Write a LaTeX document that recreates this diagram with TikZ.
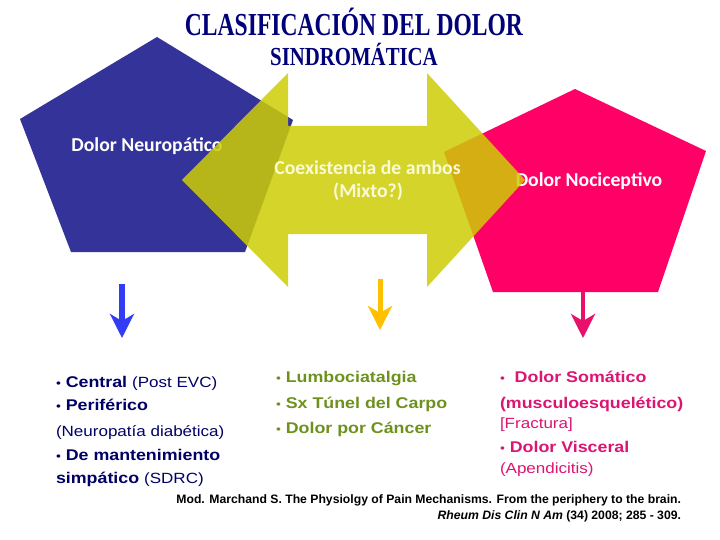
\documentclass[tikz,border=0pt]{standalone}
\usepackage{fontspec}
\usepackage{graphicx}
\usetikzlibrary{arrows.meta}
\newfontfamily\calfont{Carlito}
\newfontfamily\arialx[FakeStretch=1.15]{Liberation Sans}
\newfontfamily\titlefont{Liberation Serif}
\newfontfamily\citefont{Liberation Sans}
\definecolor{titleblue}{RGB}{0,0,120}
\definecolor{pentblue}{RGB}{51,51,153}
\definecolor{pentpink}{RGB}{255,0,102}
\definecolor{arrowyel}{RGB}{205,205,5}
\definecolor{lstnavy}{RGB}{0,0,102}
\definecolor{lstgreen}{RGB}{110,145,30}
\definecolor{lstpink}{RGB}{220,20,115}
\definecolor{dnblue}{RGB}{51,60,245}
\definecolor{dnyel}{RGB}{255,192,0}
\definecolor{dnpink}{RGB}{232,16,106}
\definecolor{coexcol}{RGB}{250,250,215}
\tikzset{
  every node/.style={inner sep=0pt, outer sep=0pt},
  pentlabel/.style={anchor=base, text=white, font=\calfont\bfseries\fontsize{19.7}{22}\selectfont},
  coexlabel/.style={anchor=base, text=coexcol, font=\calfont\bfseries\fontsize{19.7}{22}\selectfont},
  lstline/.style={anchor=base west, font=\arialx\fontsize{15.5}{18}\selectfont},
  citeline/.style={anchor=base east, font=\citefont\bfseries\fontsize{12.2}{14}\selectfont},
  downarrow/.style={-{Stealth[length=24pt,width=24pt,inset=7pt]}}
}
\newcommand{\regtxt}[1]{{\mdseries\fontsize{14.8}{18}\selectfont #1}}
\newcommand{\bul}{{\mdseries\fontsize{12}{18}\selectfont •}}
\begin{document}
\begin{tikzpicture}[x=1pt,y=-1pt]
\useasboundingbox (0,0) rectangle (720,540);
\fill[white] (0,0) rectangle (720,540);

% title
\node[anchor=base, text=titleblue] (title1) at (354,36)
  {\scalebox{0.737}[1]{\titlefont\bfseries\fontsize{32}{36}\selectfont CLASIFICACIÓN DEL DOLOR}};
\node[anchor=base, text=titleblue] (title2) at (354,66)
  {\scalebox{0.80}[1]{\titlefont\bfseries\fontsize{26}{30}\selectfont SINDROMÁTICA}};

% pentagons
\fill[pentblue] (157,37) -- (293,120) -- (245,252) -- (71,252) -- (20,119) -- cycle;
\fill[pentpink] (575,89) -- (706,151) -- (658,292) -- (493,292) -- (444,152) -- cycle;

\node[pentlabel] (neuro) at (147,151.5) {Dolor Neuropático};
\node[pentlabel] (noci) at (589,187) {Dolor Nociceptivo};

% double arrow
\fill[arrowyel, fill opacity=0.85]
  (182,180) -- (288,73) -- (288,126) -- (427,126) -- (427,73) -- (525,180)
  -- (427,287) -- (427,234) -- (288,234) -- (288,287) -- cycle;

\node[coexlabel] (coex1) at (367.5,175) {Coexistencia de ambos};
\node[coexlabel] (coex2) at (368,197) {(Mixto?)};

% down arrows
\coordinate (ba1) at (122,284);
\coordinate (ba2) at (122,338);
\coordinate (ya1) at (380,279);
\coordinate (ya2) at (380,330);
\coordinate (pa1) at (583,292);
\coordinate (pa2) at (583,338);
\draw[downarrow, dnblue, line width=6pt] (ba1) -- (ba2);
\draw[downarrow, dnyel, line width=5pt] (ya1) -- (ya2);
\draw[downarrow, dnpink, line width=4pt] (pa1) -- (pa2);

% left list
\node[lstline, text=lstnavy] (l1) at (56,387) {\bul\ \textbf{Central} \regtxt{(Post EVC)}};
\node[lstline, text=lstnavy] (l2) at (56,410) {\bul\ \textbf{Periférico}};
\node[lstline, text=lstnavy] (l3) at (56,436) {\regtxt{(Neuropatía diabética)}};
\node[lstline, text=lstnavy] (l4) at (56,460) {\bul\ \textbf{De mantenimiento}};
\node[lstline, text=lstnavy] (l5) at (56,483) {\textbf{simpático} \regtxt{(SDRC)}};

% middle list
\node[lstline, text=lstgreen] (m1) at (276,382) {\bul\ \textbf{Lumbociatalgia}};
\node[lstline, text=lstgreen] (m2) at (276,408) {\bul\ \textbf{Sx Túnel del Carpo}};
\node[lstline, text=lstgreen] (m3) at (276,433) {\bul\ \textbf{Dolor por Cáncer}};

% right list
\node[lstline, text=lstpink] (r1) at (500,382) {\bul\ \ \textbf{Dolor Somático}};
\node[lstline, text=lstpink] (r2) at (500,408) {\textbf{(musculoesquelético)}};
\node[lstline, text=lstpink] (r3) at (500,428) {\regtxt{[Fractura]}};
\node[lstline, text=lstpink] (r4) at (500,452) {\bul\ \textbf{Dolor Visceral}};
\node[lstline, text=lstpink] (r5) at (500,473) {\regtxt{(Apendicitis)}};

% citation
\node[citeline] (cite1) at (681,503) {Mod. Marchand S. The Physiolgy of Pain Mechanisms. From the periphery to the brain.};
\node[citeline] (cite2) at (681,519) {\textit{Rheum Dis Clin N Am} (34) 2008; 285 - 309.};
\end{tikzpicture}
\end{document}
